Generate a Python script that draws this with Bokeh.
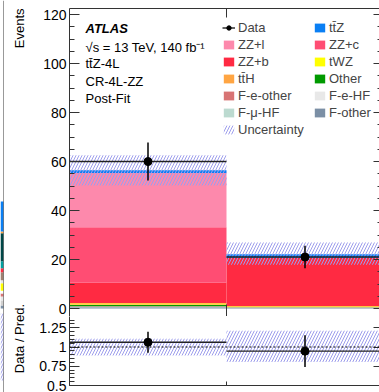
import math
from bokeh.plotting import figure
from bokeh.models import (ColumnDataSource, Legend, LegendItem, Label, LinearAxis, FixedTicker,
                          SingleIntervalTicker, Range1d, Span, CustomJSTickFormatter)
from bokeh.layouts import column, row
from bokeh.embed import file_html
from bokeh.resources import INLINE

# ---------------- data ----------------
bin_edges = [0, 1, 2]
samples = ["F-other", "F-\u03bc-HF", "F-e-HF", "F-e-other", "Other", "tt\u0304H", "tWZ",
           "ZZ+b", "ZZ+c", "ZZ+l", "tt\u0304Z"]
colors = ["#7b8fa5", "#bcdad0", "#e8e8e8", "#d87474", "#009a00", "#ffa542", "#ffff00",
          "#ff2a42", "#ff4d73", "#fd89ac", "#0a7ff4"]
yields_bin1 = [0.5, 0.15, 0.1, 0.15, 0.5, 0.3, 0.4, 8.4, 22.7, 22.1, 1.2]
yields_bin2 = [0.3, 0.05, 0.05, 0.05, 0.1, 0.05, 0.3, 19.7, 0.0, 0.0, 1.6]
data = [60, 21]
data_err = [7.75, 4.58]
unc_low = [50.2, 17.9]
unc_high = [62.6, 26.9]

legend_col1 = ["Data", "ZZ+l", "ZZ+b", "tt\u0304H", "F-e-other", "F-\u03bc-HF", "Uncertainty"]
legend_col2 = ["tt\u0304Z", "ZZ+c", "tWZ", "Other", "F-e-HF", "F-other"]

# neighbouring panel remnant (left edge of the crop)
neighbor_values = [1.2, 2.1, 1.6, 1.2, 1.2, 3.0, 1.2, 3.3, 1.6, 2.9, 11.4, 0.8, 12.2]
neighbor_colors = ["#7b8fa5", "#d0d0d0", "#e8e8e8", "#d87474", "#ffffff", "#ffff00", "#e8e8e8",
                   "#a08070", "#ff2a42", "#00a0a0", "#004848", "#ffa542", "#0a7ff4"]

# --------------- styling ---------------
FONT = "Liberation Sans"
AX = "#333333"
HATCH = "#9d9dec"

centers = [(a + b) / 2 for a, b in zip(bin_edges[:-1], bin_edges[1:])]
totals = [sum(yields_bin1), sum(yields_bin2)]

PX_MAIN = 300 / 122.5      # pixels per event in the main panel
PAD = 8                    # white pad below zero in the main panel (px)
PX_RATIO = 77.0            # pixels per unit of ratio
RATIO_H = 385 - 308 - PAD  # ratio frame height (px)
TITLE_W = 30               # column holding the rotated y titles
LEFT = 69 - 4 - TITLE_W    # left border of the panels

# --------------- main panel ---------------
p1 = figure(width=310 + LEFT, height=308 + PAD, x_range=Range1d(0, 310 / 157),
            y_range=Range1d(-PAD / PX_MAIN, 122.5),
            output_backend="svg", toolbar_location=None, min_border_left=LEFT, min_border_right=0,
            min_border_top=8, min_border_bottom=0, x_axis_location=None, y_axis_location="left")
p1.outline_line_color = None
p1.xgrid.visible = False
p1.ygrid.visible = False
p1.background_fill_color = "white"
p1.border_fill_color = "white"

src = {"x": centers}
for i, s in enumerate(samples):
    src[s] = [yields_bin1[i], yields_bin2[i]]
src = ColumnDataSource(src)
stack_r = p1.vbar_stack(samples, x="x", width=1, fill_color=colors, line_color=None, source=src)
rmap = dict(zip(samples, stack_r))

unc_r = p1.quad(left=bin_edges[:-1], right=bin_edges[1:], bottom=unc_low, top=unc_high,
                fill_color=None, line_color=None, hatch_pattern="/", hatch_color=HATCH,
                hatch_scale=6, hatch_weight=1)

dsrc = ColumnDataSource(dict(x=centers, x0=bin_edges[:-1], x1=bin_edges[1:], y=data,
                             lo=[d - e for d, e in zip(data, data_err)],
                             hi=[d + e for d, e in zip(data, data_err)]))
hist_r = p1.segment(x0="x0", y0="y", x1="x1", y1="y", line_color="#222222", line_width=1.4, source=dsrc)
err_r = p1.segment(x0="x", y0="lo", x1="x", y1="hi", line_color="black", line_width=1.5, source=dsrc)
pts_r = p1.scatter("x", "y", size=8, color="black", source=dsrc)

ya = p1.yaxis[0]
ya.ticker = SingleIntervalTicker(interval=20, num_minor_ticks=4)
ya.major_tick_in = 10
ya.major_tick_out = 0
ya.minor_tick_in = 5
ya.minor_tick_out = 0
ya.axis_line_color = AX
ya.major_tick_line_color = AX
ya.minor_tick_line_color = AX
ya.major_label_text_font = FONT
ya.major_label_text_font_size = "14px"
ya.major_label_text_color = "black"
ya.major_label_standoff = 3

empty = CustomJSTickFormatter(code="return ''")


def edge_axis(tick_in, line_color):
    return LinearAxis(ticker=FixedTicker(ticks=[1]), major_tick_in=tick_in, major_tick_out=0,
                      minor_tick_line_color=None, axis_line_color=line_color,
                      major_tick_line_color=AX, formatter=empty,
                      major_label_text_font_size="0px", major_label_standoff=0)


p1.add_layout(edge_axis(9, AX), "above")
p1.add_layout(edge_axis(12, None), "below")
p1.add_layout(LinearAxis(ticker=SingleIntervalTicker(interval=20, num_minor_ticks=4),
                         major_tick_in=6, major_tick_out=0, minor_tick_in=2, minor_tick_out=0,
                         axis_line_color=None, major_tick_line_color=AX, minor_tick_line_color=AX,
                         formatter=empty, major_label_text_font_size="0px", major_label_standoff=0),
              "right")

# legends
label_r = dict(rmap)
label_r["Data"] = [hist_r, pts_r]
label_r["Uncertainty"] = [unc_r]


def make_legend(names, loc):
    items = []
    for n in names:
        r = label_r[n]
        items.append(LegendItem(label=n, renderers=r if isinstance(r, list) else [r]))
    return Legend(items=items, location=loc, orientation="vertical", border_line_color=None,
                  background_fill_alpha=0, padding=0, spacing=2, margin=0, glyph_width=13,
                  glyph_height=11, label_standoff=3, label_height=15, label_text_font=FONT,
                  label_text_font_size="13px")


p1.add_layout(make_legend(legend_col1, (153, 171 + PAD)))
p1.add_layout(make_legend(legend_col2, (244, 188 + PAD)))

texts = [("ATLAS", 280, "bold italic"), ("\u221as = 13 TeV, 140 fb\u207b\u00b9", 261.3, "normal"),
         ("tt\u0304Z-4L", 244.7, "normal"), ("CR-4L-ZZ", 227, "normal"), ("Post-Fit", 209.7, "normal")]
for t, yy, st in texts:
    p1.add_layout(Label(x=16, y=yy + PAD, x_units="screen", y_units="screen", text=t, text_font=FONT,
                        text_font_size="13px", text_font_style=st, text_baseline="middle",
                        text_color="black"))

# --------------- ratio panel ---------------
ratio = [d / t for d, t in zip(data, totals)]
ratio_err = [e / t for e, t in zip(data_err, totals)]
ratio_unc_lo = [l / t for l, t in zip(unc_low, totals)]
ratio_unc_hi = [h / t for h, t in zip(unc_high, totals)]

p2 = figure(width=310 + LEFT, height=392 - 308 - PAD, x_range=p1.x_range,
            y_range=Range1d(0.5, 0.5 + RATIO_H / PX_RATIO),
            output_backend="svg", toolbar_location=None, min_border_left=LEFT, min_border_right=0,
            min_border_top=0, min_border_bottom=7, x_axis_location=None, y_axis_location="left")
p2.outline_line_color = None
p2.xgrid.visible = False
p2.ygrid.visible = False

p2.quad(left=bin_edges[:-1], right=bin_edges[1:], bottom=ratio_unc_lo, top=ratio_unc_hi,
        fill_color=None, line_color=None, hatch_pattern="/", hatch_color=HATCH,
        hatch_scale=6, hatch_weight=1)
p2.add_layout(Span(location=1, dimension="width", line_dash="2 2", line_color="black", line_width=1))
rsrc = ColumnDataSource(dict(x=centers, x0=bin_edges[:-1], x1=bin_edges[1:], y=ratio,
                             lo=[r - e for r, e in zip(ratio, ratio_err)],
                             hi=[r + e for r, e in zip(ratio, ratio_err)]))
p2.segment(x0="x0", y0="y", x1="x1", y1="y", line_color="#222222", line_width=1.4, source=rsrc)
p2.segment(x0="x", y0="lo", x1="x", y1="hi", line_color="black", line_width=1.5, source=rsrc)
p2.scatter("x", "y", size=8, color="black", source=rsrc)

ra = p2.yaxis[0]
ra.ticker = FixedTicker(ticks=[0.5, 0.75, 1.0, 1.25],
                        minor_ticks=[0.5 + 0.05 * i for i in range(21)])
ra.formatter = CustomJSTickFormatter(code="return String(tick)")
ra.major_tick_in = 10
ra.major_tick_out = 0
ra.minor_tick_in = 5
ra.minor_tick_out = 0
ra.axis_line_color = AX
ra.major_tick_line_color = AX
ra.minor_tick_line_color = AX
ra.major_label_text_font = FONT
ra.major_label_text_font_size = "14px"
ra.major_label_text_color = "black"
ra.major_label_standoff = 3

p2.add_layout(edge_axis(4, AX), "below")
p2.add_layout(LinearAxis(ticker=FixedTicker(ticks=[0.75, 1.0, 1.25]), major_tick_in=6, major_tick_out=0,
                         minor_tick_line_color=None, axis_line_color=None, major_tick_line_color=AX,
                         formatter=empty, major_label_text_font_size="0px", major_label_standoff=0),
              "right")

# --------------- rotated y titles (ROOT-style placement) ---------------
titles = figure(width=TITLE_W, height=392, x_range=Range1d(0, 1), y_range=Range1d(0, 1),
                output_backend="svg", toolbar_location=None, min_border=0,
                x_axis_location=None, y_axis_location=None)
titles.outline_line_color = None
titles.xgrid.visible = False
titles.ygrid.visible = False
titles.add_layout(Label(x=22, y=392 - 8, x_units="screen", y_units="screen", text="Events",
                        angle=math.pi / 2, text_align="right", text_baseline="bottom",
                        text_font=FONT, text_font_size="13px", text_color="black"))
titles.add_layout(Label(x=22, y=392 - 338, x_units="screen", y_units="screen", text="Data / Pred.",
                        angle=math.pi / 2, text_align="center", text_baseline="bottom",
                        text_font=FONT, text_font_size="13px", text_color="black"))

# --------------- neighbouring panel strip ---------------
strip = figure(width=4, height=392, x_range=Range1d(0, 4), y_range=Range1d(-34.3, 125.8),
               output_backend="svg", toolbar_location=None, min_border=0,
               x_axis_location=None, y_axis_location=None)
strip.outline_line_color = None
strip.xgrid.visible = False
strip.ygrid.visible = False
nb = []
acc = 0.0
for v in neighbor_values:
    nb.append((acc, acc + v))
    acc += v
strip.quad(left=0, right=3, bottom=[b for b, t in nb], top=[t for b, t in nb],
           fill_color=neighbor_colors, line_color=None)
strip.quad(left=0, right=3, bottom=[-29.4], top=[-2.0], fill_color=None, line_color=None,
           hatch_pattern="/", hatch_color=HATCH, hatch_scale=5, hatch_weight=1)
strip.add_layout(Span(location=3.5, dimension="height", line_color=AX, line_width=1))

layout = row(strip, titles, column(p1, p2))
open("out.html", "w").write(file_html(layout, INLINE))
